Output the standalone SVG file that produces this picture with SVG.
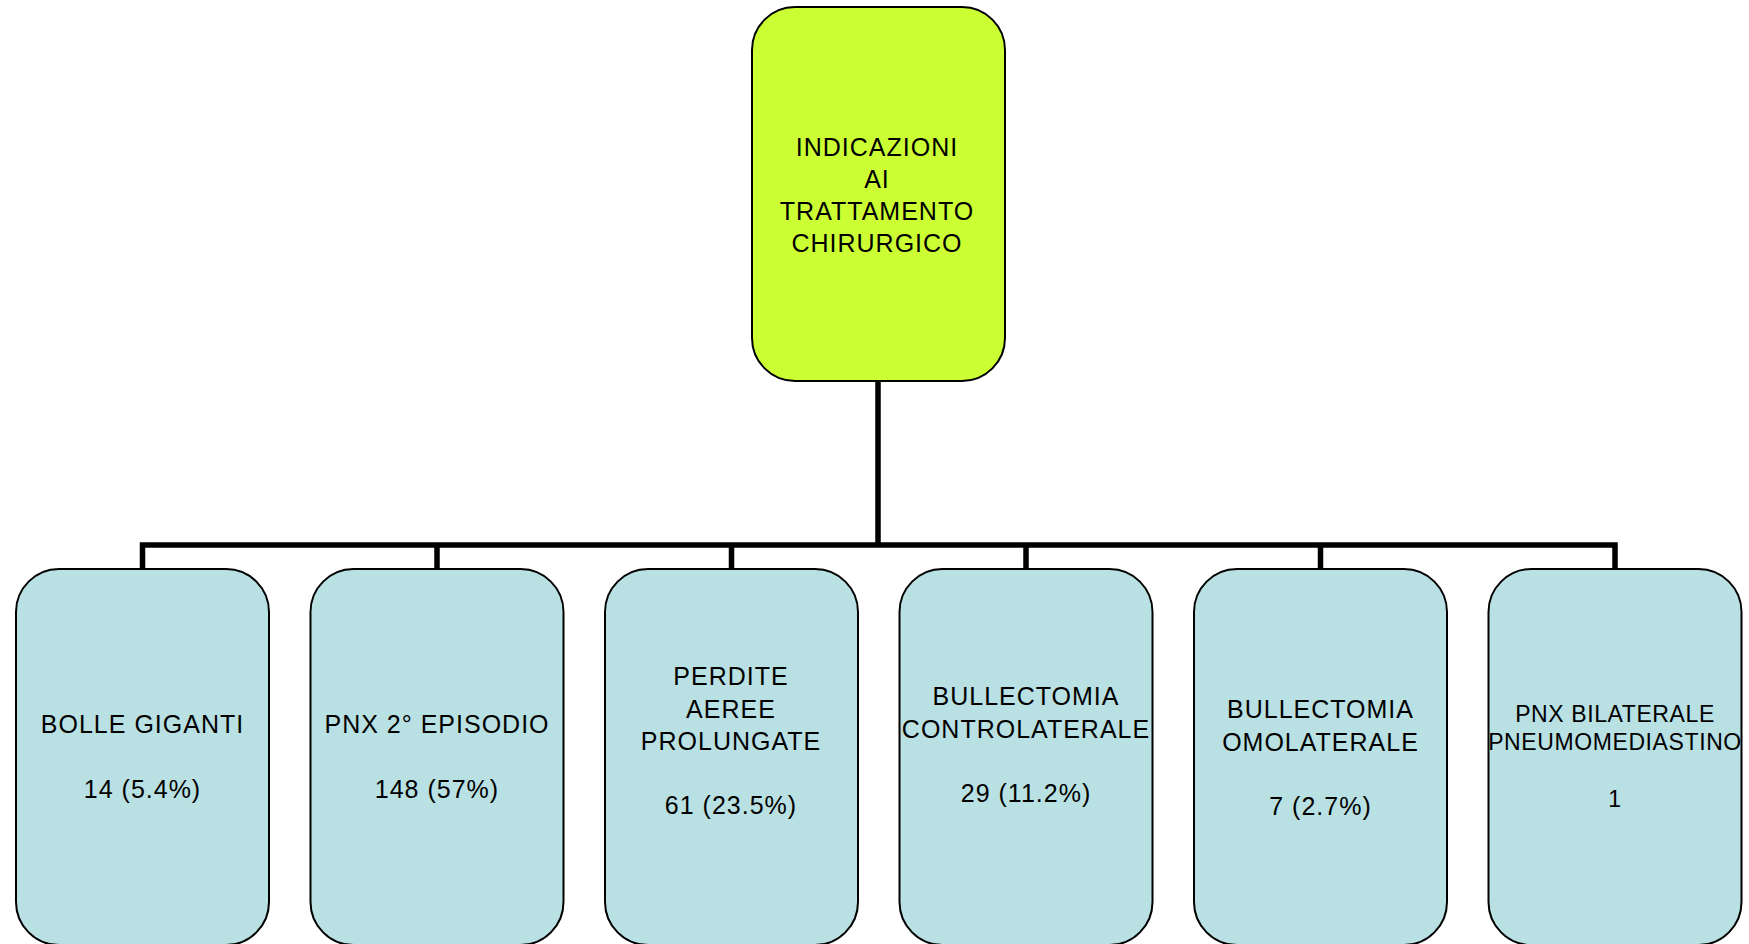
<svg xmlns="http://www.w3.org/2000/svg" width="1749" height="944" viewBox="0 0 1749 944">
<style>
.root{fill:#CCFF33;stroke:#000;stroke-width:2}
.leaf{fill:#B9E0E3;stroke:#000;stroke-width:2}
text{font-family:"Liberation Sans",Arial,sans-serif;font-size:25px;fill:#000;text-anchor:middle;letter-spacing:1px}
.sm{font-size:23px;letter-spacing:0.6px}
.conn{fill:none;stroke:#000;stroke-width:5.5;stroke-linecap:square}
</style>
<rect width="1749" height="944" fill="#fff"/>
<g id="connectors">
<path class="conn" d="M878,382 V545 M142.5,545 H1615 M142.5,545 V568 M437,545 V568 M731.5,545 V568 M1026,545 V568 M1320.5,545 V568 M1615,545 V568"/>
</g>
<g id="root">
<rect class="root" x="752" y="7" width="253" height="374" rx="43"/>
<text x="877" y="156">INDICAZIONI</text>
<text x="877" y="188">AI</text>
<text x="877" y="220">TRATTAMENTO</text>
<text x="877" y="252">CHIRURGICO</text>
</g>
<g id="n1">
<rect class="leaf" x="16" y="569" width="253" height="376" rx="43"/>
<text x="142.5" y="733">BOLLE GIGANTI</text>
<text x="142.5" y="798">14 (5.4%)</text>
</g>
<g id="n2">
<rect class="leaf" x="310.5" y="569" width="253" height="376" rx="43"/>
<text x="437" y="733">PNX 2° EPISODIO</text>
<text x="437" y="798">148 (57%)</text>
</g>
<g id="n3">
<rect class="leaf" x="605" y="569" width="253" height="376" rx="43"/>
<text x="731" y="685">PERDITE</text>
<text x="731" y="717.5">AEREE</text>
<text x="731" y="750">PROLUNGATE</text>
<text x="731" y="814">61 (23.5%)</text>
</g>
<g id="n4">
<rect class="leaf" x="899.5" y="569" width="253" height="376" rx="43"/>
<text x="1026" y="705">BULLECTOMIA</text>
<text x="1026" y="737.5">CONTROLATERALE</text>
<text x="1026" y="802">29 (11.2%)</text>
</g>
<g id="n5">
<rect class="leaf" x="1194" y="569" width="253" height="376" rx="43"/>
<text x="1320.5" y="718">BULLECTOMIA</text>
<text x="1320.5" y="750.5">OMOLATERALE</text>
<text x="1320.5" y="815">7 (2.7%)</text>
</g>
<g id="n6">
<rect class="leaf" x="1488.5" y="569" width="253" height="376" rx="43"/>
<text class="sm" x="1615" y="722">PNX BILATERALE</text>
<text class="sm" x="1615" y="750">PNEUMOMEDIASTINO</text>
<text class="sm" x="1615" y="807">1</text>
</g>
</svg>
